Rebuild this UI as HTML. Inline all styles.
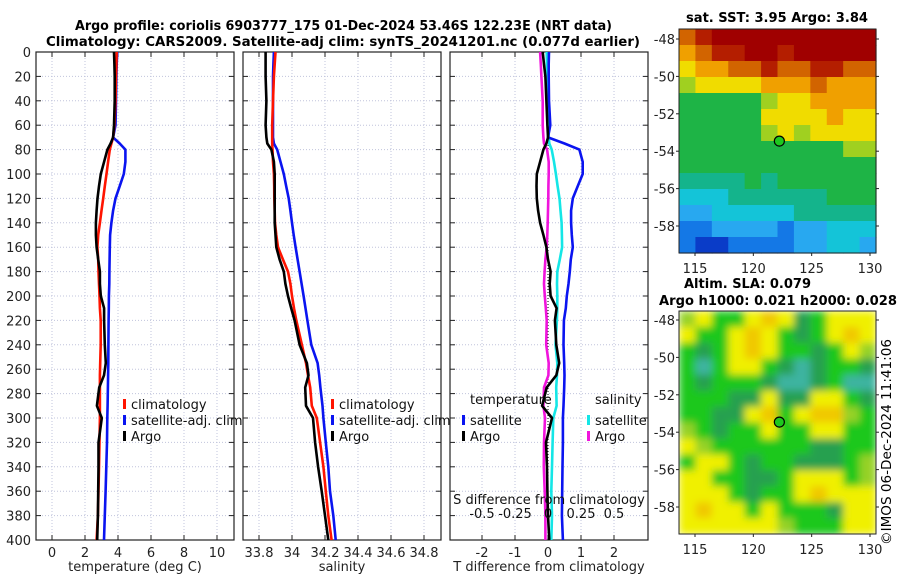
<!DOCTYPE html>
<html><head><meta charset="utf-8"><style>
html,body{margin:0;padding:0;background:#fff;}
svg text{font-family:"DejaVu Sans","Liberation Sans",sans-serif;}
</style></head><body>
<svg id="c" width="900" height="580" xmlns="http://www.w3.org/2000/svg">
<defs>
<filter id="blur" x="0" y="0" width="1" height="1"><feGaussianBlur stdDeviation="4" edgeMode="duplicate"/></filter>
<clipPath id="slaclip"><rect x="679" y="311" width="197" height="223"/></clipPath>
</defs>
<text x="75" y="30" font-size="13" font-weight="bold" textLength="537" lengthAdjust="spacingAndGlyphs">Argo profile: coriolis 6903777_175 01-Dec-2024 53.46S 122.23E (NRT data)</text>
<text x="46" y="46" font-size="13" font-weight="bold" textLength="594" lengthAdjust="spacingAndGlyphs">Climatology: CARS2009. Satellite-adj clim: synTS_20241201.nc (0.077d earlier)</text>
<text x="686" y="22" font-size="13" font-weight="bold" textLength="182" lengthAdjust="spacingAndGlyphs">sat. SST: 3.95 Argo: 3.84</text>
<text x="684" y="288" font-size="13" font-weight="bold" textLength="127" lengthAdjust="spacingAndGlyphs">Altim. SLA: 0.079</text>
<text x="659" y="305" font-size="13" font-weight="bold" textLength="238" lengthAdjust="spacingAndGlyphs">Argo h1000: 0.021 h2000: 0.028</text>
<text transform="translate(891,545) rotate(-90)" font-size="13" textLength="206" lengthAdjust="spacingAndGlyphs">©IMOS 06-Dec-2024 11:41:06</text>
</svg>
<script>
// ---- profile data ----
const depths = [0,10,20,40,60,70,75,80,90,100,110,120,130,140,150,160,170,180,190,200,210,220,240,255,265,275,290,300,320,340,360,380,400];
const tArgo = [3.76,3.78,3.8,3.8,3.76,3.7,3.55,3.36,3.16,2.96,2.85,2.76,2.7,2.66,2.66,2.7,2.8,2.9,2.9,2.96,3.16,3.16,3.2,3.26,3.15,2.86,2.72,3.02,2.82,2.82,2.8,2.78,2.74];
const tClim = [3.92,3.9,3.88,3.85,3.78,3.7,3.6,3.5,3.4,3.3,3.2,3.1,3.0,2.9,2.8,2.75,2.8,2.82,2.85,2.88,2.9,2.95,2.95,2.92,2.9,2.9,2.9,2.9,2.88,2.85,2.82,2.78,2.7];
const tSat  = [3.95,3.92,3.9,3.88,3.85,3.7,4.1,4.45,4.45,4.35,4.1,3.85,3.7,3.6,3.52,3.5,3.49,3.48,3.47,3.45,3.44,3.43,3.42,3.41,3.4,3.39,3.37,3.35,3.33,3.29,3.25,3.2,3.15];
const sArgo = [33.84,33.84,33.84,33.845,33.84,33.845,33.85,33.875,33.89,33.895,33.895,33.895,33.895,33.895,33.9,33.905,33.925,33.95,33.96,33.976,33.995,34.016,34.046,34.09,34.1,34.08,34.085,34.127,34.14,34.158,34.18,34.2,34.22];
const sClim = [33.9,33.895,33.89,33.885,33.88,33.88,33.88,33.882,33.885,33.89,33.892,33.893,33.895,33.897,33.905,33.915,33.945,33.976,33.99,34.0,34.012,34.026,34.06,34.085,34.097,34.11,34.12,34.15,34.17,34.19,34.205,34.22,34.24];
const sSat  = [33.89,33.887,33.885,33.885,33.885,33.885,33.89,33.91,33.93,33.95,33.965,33.98,33.99,34.0,34.01,34.022,34.034,34.046,34.058,34.07,34.082,34.093,34.117,34.155,34.165,34.172,34.185,34.19,34.205,34.22,34.23,34.25,34.265];
const depthTicks = [0,20,40,60,80,100,120,140,160,180,200,220,240,260,280,300,320,340,360,380,400];
const tTicks = [0,2,4,6,8,10];
const sTicks = [33.8,34,34.2,34.4,34.6,34.8];
const sTickLabels = ["33.8","34","34.2","34.4","34.6","34.8"];
const dTicks = [-2,-1,0,1,2];
const sdTicks = [-0.5,-0.25,0,0.25,0.5];
const sdTickLabels = ["-0.5","-0.25","0","0.25","0.5"];
// ---- map data (colour class per cell, rows north->south) ----
const sstRows = ["9abbbbbbbbbb","89aabbabbbbb","78899a99aa99","677778889888","555556778888","555557777877","555556767777","555555555566","555555555555","444454555555","333444444555","223333344444","112222122333","100111122332"];
const slaRows = ["342245412444","422454212454","212454221243","202442101221","212221001200","222114114421","221145245532","321224224422","432222221122","244212211123","442211244423","444212245444","454424222144","444444322244"];
const sstPalette = ["#0a3cc8","#1478e6","#28a8f0","#14c4d8","#14b48c","#1eb446","#a0d020","#f0dc00","#f0a000","#d26400","#b41e00","#a00000"];
const slaPalette = ["#3cb4a0","#28a050","#1ec81e","#96d228","#f0f000","#f0c800","#f0a000"];
const latTicks = [-48,-50,-52,-54,-56,-58];
const lonTicks = [115,120,125,130];

const svg = document.getElementById('c');
const NS = "http://www.w3.org/2000/svg";
function mk(tag, attrs, parent){const e=document.createElementNS(NS,tag);for(const k in attrs)e.setAttribute(k,attrs[k]);(parent||svg).appendChild(e);return e;}
function txt(s,x,y,anchor,size,fill,parent){const t=mk('text',{x:x,y:y,'text-anchor':anchor||'start','font-size':size||13,fill:fill||'#000'},parent);t.textContent=s;return t;}

const Y0=52, Y1=540;
function yD(d){return Y0+(d/400)*(Y1-Y0);}

function panel(name,x0,x1,xmin,xmax){
  const g=mk('g',{});
  
  
  const sx=v=>x0+(v-xmin)/(xmax-xmin)*(x1-x0);
  return {g,sx};
}
function frame(g,x0,x1,sx,ticks,labels,title,showY){
  depthTicks.forEach(d=>{
    const l=mk('line',{x1:x0,x2:x1,y1:yD(d),y2:yD(d),stroke:'#c0c4dc','stroke-width':1,'stroke-dasharray':'1,2'},g);
    
    
    mk('line',{x1:x0,x2:x0+5,y1:yD(d),y2:yD(d),stroke:'#222'},g);
    mk('line',{x1:x1-5,x2:x1,y1:yD(d),y2:yD(d),stroke:'#222'},g);
    if(showY){const t=txt(String(d),31,yD(d)+5,'end',13,'#222',g);
      
      }
  });
  ticks.forEach((v,i)=>{
    const x=sx(v);
    const l=mk('line',{x1:x,x2:x,y1:Y0,y2:Y1,stroke:'#c0c4dc','stroke-width':1,'stroke-dasharray':'1,2'},g);
    
    
    mk('line',{x1:x,x2:x,y1:Y1-5,y2:Y1,stroke:'#222'},g);
    mk('line',{x1:x,x2:x,y1:Y0,y2:Y0+5,stroke:'#222'},g);
    const t=txt(labels[i],x,557,'middle',13,'#222',g);
    
    
  });
  const r=mk('rect',{x:x0,y:Y0,width:x1-x0,height:Y1-Y0,fill:'none',stroke:'#222','stroke-width':1.2},g);
  
  
  const tt=txt(title,(x0+x1)/2,571,'middle',13,'#222',g);
  
  
}
function line(g,vals,sx,color,name,w){
  const pts=vals.map((v,i)=>sx(v).toFixed(1)+','+yD(depths[i]).toFixed(1)).join(' ');
  const p=mk('polyline',{points:pts,fill:'none',stroke:color,'stroke-width':w||2.6,'stroke-linejoin':'round'},g);
  
  
}
function legend(g,x,y,items){
  items.forEach((it,i)=>{
    const yy=y+i*16;
    mk('rect',{x:x,y:yy-9,width:3,height:10,fill:it[1]},g);
    const t=txt(it[0],x+8,yy+1,'start',13,'#111',g);
    
    
  });
}

// Panel 1: temperature
{const x0=36,x1=234;const P=panel('temperature-panel',x0,x1,-0.97,11.03);
 frame(P.g,x0,x1,P.sx,tTicks,tTicks.map(String),'temperature (deg C)',true);
 line(P.g,tSat,P.sx,'#0a14f0','temperature-satellite-line');
 line(P.g,tClim,P.sx,'#ff1400','temperature-climatology-line');
 line(P.g,tArgo,P.sx,'#000','temperature-argo-line');
 legend(P.g,123,408,[['climatology','#ff1400'],['satellite-adj. clim','#0a14f0'],['Argo','#000']]);}
// Panel 2: salinity
{const x0=243,x1=441;const P=panel('salinity-panel',x0,x1,33.703,34.903);
 frame(P.g,x0,x1,P.sx,sTicks,sTickLabels,'salinity',false);
 line(P.g,sSat,P.sx,'#0a14f0','salinity-satellite-line');
 line(P.g,sClim,P.sx,'#ff1400','salinity-climatology-line');
 line(P.g,sArgo,P.sx,'#000','salinity-argo-line');
 legend(P.g,331,408,[['climatology','#ff1400'],['satellite-adj. clim','#0a14f0'],['Argo','#000']]);}
// Panel 3: differences
{const x0=450,x1=648;const P=panel('difference-panel',x0,x1,-2.97,3.03);
 frame(P.g,x0,x1,P.sx,dTicks,dTicks.map(String),'T difference from climatology',false);
 const zl=mk('line',{x1:P.sx(0),x2:P.sx(0),y1:Y0,y2:Y1,stroke:'#000','stroke-dasharray':'1,2'},P.g);
 
 
 const sc=v=>P.sx(v*4);
 line(P.g,sSat.map((v,i)=>v-sClim[i]),sc,'#14e6e6','salinity-diff-satellite-line');
 line(P.g,sArgo.map((v,i)=>v-sClim[i]),sc,'#f014dc','salinity-diff-argo-line');
 line(P.g,tSat.map((v,i)=>v-tClim[i]),P.sx,'#0a14f0','temperature-diff-satellite-line');
 line(P.g,tArgo.map((v,i)=>v-tClim[i]),P.sx,'#000','temperature-diff-argo-line');
 const h1=txt('temperature',470,404,'start',13,'#111',P.g);
 
 
 const h2=txt('salinity',595,404,'start',13,'#111',P.g);
 
 
 legend(P.g,462,424,[['satellite','#0a14f0'],['Argo','#000']]);
 legend(P.g,587,424,[['satellite','#14e6e6'],['Argo','#f014dc']]);
 const st=txt('S difference from climatology',549,504,'middle',13,'#111',P.g);
 
 
 sdTicks.forEach((v,i)=>{const t=txt(sdTickLabels[i],sc(v),518,'middle',13,'#111',P.g);
   
   });}

// Maps
function drawMap(name,rows,pal,x0,y0,x1,y1,latA,latB,smooth){
  const g=mk('g',{});
  
  
  const cells=mk('g',smooth?{'clip-path':'url(#slaclip)'}:{},g);
  const inner=mk('g',smooth?{filter:'url(#blur)'}:{},cells);
  const nr=rows.length,nc=rows[0].length,cw=(x1-x0)/nc,ch=(y1-y0)/nr;
  rows.forEach((r,i)=>{for(let j=0;j<nc;j++){
    const c=mk('rect',{x:(x0+j*cw).toFixed(2),y:(y0+i*ch).toFixed(2),width:(cw+0.6).toFixed(2),height:(ch+0.6).toFixed(2),fill:pal[parseInt(r[j],16)]},inner);
    
    
  }});
  const lonX=v=>695+(v-115)*(870-695)/15;
  const latY=v=>latA+(v+48)/(-10)*(latB-latA);
  mk('rect',{x:x0,y:y0,width:x1-x0,height:y1-y0,fill:'none',stroke:'#222'},g);
  latTicks.forEach(v=>{const y=latY(v);
    mk('line',{x1:x0-3,x2:x0,y1:y,y2:y,stroke:'#222'},g);
    mk('line',{x1:x1,x2:x1+3,y1:y,y2:y,stroke:'#222'},g);
    const t=txt(String(v),675,y+5,'end',13,'#222',g);
    
    });
  lonTicks.forEach(v=>{const x=lonX(v);
    mk('line',{x1:x,x2:x,y1:y1,y2:y1+3,stroke:'#222'},g);
    const t=txt(String(v),x,y1+20,'middle',13,'#222',g);
    
    });
  const m=mk('circle',{cx:lonX(122.23),cy:latY(-53.46),r:5,fill:'#1ec81e',stroke:'#000','stroke-width':1.2},g);
  
  
}
drawMap('sst-map',sstRows,sstPalette,679,29,876,253,39,226,false);
drawMap('sla-map',slaRows,slaPalette,679,311,876,534,320,507,true);
</script>
</body></html>
